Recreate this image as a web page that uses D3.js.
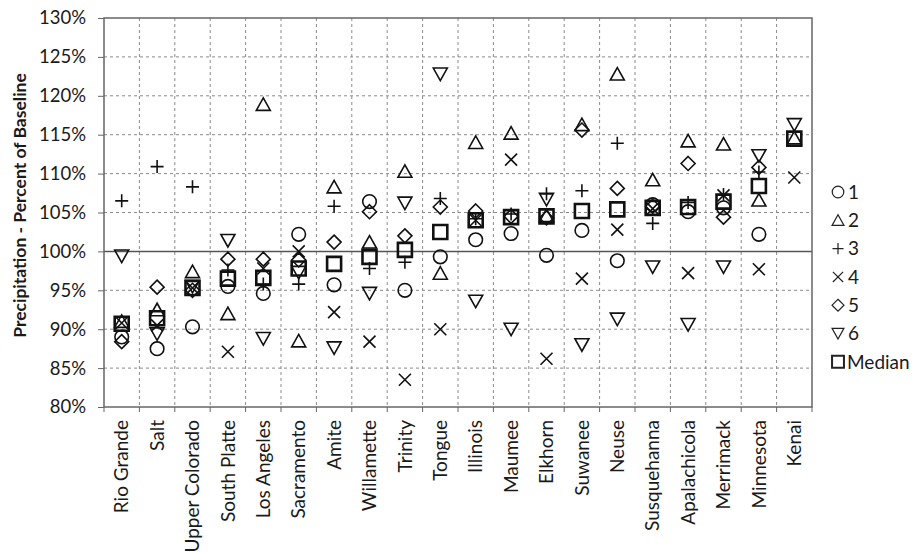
<!DOCTYPE html>
<html>
<head>
<meta charset="utf-8">
<script src="https://cdn.jsdelivr.net/npm/d3@7"></script>
<style>
  body { margin: 0; background: #fff; }
  text { font-family: Lato, "Open Sans", sans-serif; fill: #1a1a1a; }
</style>
</head>
<body>
<script>
// Rivers along the x axis.
const rivers = ["Rio Grande", "Salt", "Upper Colorado", "South Platte", "Los Angeles",
  "Sacramento", "Amite", "Willamette", "Trinity", "Tongue", "Illinois", "Maumee",
  "Elkhorn", "Suwanee", "Neuse", "Susquehanna", "Apalachicola", "Merrimack",
  "Minnesota", "Kenai"];

// Precipitation, percent of baseline, one array per scenario.
const series1 = [89.0, 87.5, 90.3, 95.5, 94.6, 102.2, 95.7, 106.4, 95.0, 99.3,
  101.5, 102.3, 99.5, 102.7, 98.8, 106.0, 105.1, 105.6, 102.2, null];
const series2 = [91.0, 92.5, 97.4, 92.0, 118.9, 88.5, 108.3, 101.2, 110.3, 97.2,
  114.0, 115.2, 104.6, 116.3, 122.8, 109.2, 114.2, 113.8, 106.6, 114.6];
const series3 = [106.5, 110.9, 108.3, 97.6, 95.8, 95.8, 105.8, 97.8, 98.6, 106.8,
  104.2, 104.8, 107.4, 107.8, 113.9, 103.6, 106.3, 107.3, 110.2, null];
const series4 = [90.8, 90.5, 95.3, 87.1, 97.8, 100.0, 92.2, 88.4, 83.5, 90.0,
  104.0, 111.8, 86.2, 96.5, 102.8, 105.5, 97.2, 107.2, 97.7, 109.5];
const series5 = [88.4, 95.4, 95.0, 99.0, 99.0, 98.9, 101.2, 105.1, 102.0, 105.7,
  105.2, 104.5, 104.3, 115.6, 108.1, 105.8, 111.3, 104.4, 110.8, null];
const series6 = [99.4, 89.4, 95.5, 101.4, 88.8, 97.3, 87.6, 94.6, 106.2, 122.8,
  93.6, 90.0, 106.7, 88.0, 91.3, 98.0, 90.6, 98.0, 112.3, 116.3];
const median = [90.7, 91.4, 95.3, 96.5, 96.6, 97.8, 98.4, 99.3, 100.2, 102.5,
  104.0, 104.4, 104.5, 105.2, 105.4, 105.6, 105.7, 106.4, 108.4, 114.5];

const seriesNames = ["1", "2", "3", "4", "5", "6", "Median"];
const seriesShapes = ["circle", "triUp", "plus", "cross", "diamond", "triDown", "square"];
const yTicks = [80, 85, 90, 95, 100, 105, 110, 115, 120, 125, 130];

const width = 914, height = 552;
const margin = { left: 104, right: 812, top: 18, bottom: 407 };

const svg = d3.select("body").append("svg")
  .attr("width", width)
  .attr("height", height);

const x = d3.scaleBand().domain(rivers).range([margin.left, margin.right]).padding(0);
const y = d3.scaleLinear().domain([80, 130]).range([margin.bottom, margin.top]);

// Marker outlines, centred on 0,0.
function shapePath(type, k) {
  const p = d3.path();
  if (type === "circle") {
    p.moveTo(6.8 * k, 0);
    p.arc(0, 0, 6.8 * k, 0, 2 * Math.PI);
  } else if (type === "triUp") {
    p.moveTo(-7 * k, 6 * k); p.lineTo(7 * k, 6 * k); p.lineTo(0, -6.5 * k); p.closePath();
  } else if (type === "triDown") {
    p.moveTo(-7 * k, -6 * k); p.lineTo(7 * k, -6 * k); p.lineTo(0, 6.5 * k); p.closePath();
  } else if (type === "plus") {
    p.moveTo(-6.5 * k, 0); p.lineTo(6.5 * k, 0);
    p.moveTo(0, -6.5 * k); p.lineTo(0, 6.5 * k);
  } else if (type === "cross") {
    p.moveTo(-6 * k, -6 * k); p.lineTo(6 * k, 6 * k);
    p.moveTo(-6 * k, 6 * k); p.lineTo(6 * k, -6 * k);
  } else if (type === "diamond") {
    p.moveTo(0, -7 * k); p.lineTo(7 * k, 0); p.lineTo(0, 7 * k); p.lineTo(-7 * k, 0); p.closePath();
  } else if (type === "square") {
    p.rect(-7 * k, -7 * k, 14 * k, 14 * k);
  }
  return p.toString();
}

// Grid lines.
const grid = svg.append("g");
grid.selectAll(".hgrid")
  .data(yTicks.filter(d => d !== 80 && d !== 130 && d !== 100))
  .enter().append("line")
  .attr("x1", margin.left).attr("x2", margin.right)
  .attr("y1", d => y(d)).attr("y2", d => y(d))
  .attr("stroke", "#8a8a8a").attr("stroke-width", 1)
  .attr("stroke-dasharray", "3,3");

grid.selectAll(".vgrid")
  .data(rivers.slice(1))
  .enter().append("line")
  .attr("x1", d => x(d)).attr("x2", d => x(d))
  .attr("y1", margin.top).attr("y2", margin.bottom)
  .attr("stroke", "#8a8a8a").attr("stroke-width", 1)
  .attr("stroke-dasharray", "3,3");

// Baseline at 100%.
svg.append("line")
  .attr("x1", margin.left).attr("x2", margin.right)
  .attr("y1", y(100)).attr("y2", y(100))
  .attr("stroke", "#555").attr("stroke-width", 1.5);

// Plot frame.
svg.append("rect")
  .attr("x", margin.left).attr("y", margin.top)
  .attr("width", margin.right - margin.left)
  .attr("height", margin.bottom - margin.top)
  .attr("fill", "none").attr("stroke", "#666").attr("stroke-width", 1.5);

// Y axis.
const yAxis = svg.append("g")
  .attr("transform", `translate(${margin.left},0)`)
  .call(d3.axisLeft(y).tickValues(yTicks).tickFormat(d => d + "%").tickSize(6).tickPadding(12));
yAxis.select(".domain").remove();
yAxis.selectAll("line").attr("stroke", "#666");
yAxis.selectAll("text").style("font-size", "18.5px").style("font-family", "Lato").attr("fill", "#1a1a1a");

// X axis: labels at band centres, ticks at band edges.
const xAxis = svg.append("g")
  .attr("transform", `translate(0,${margin.bottom})`)
  .call(d3.axisBottom(x).tickSize(0));
xAxis.select(".domain").remove();
xAxis.selectAll("text")
  .style("font-size", "19px").style("font-family", "Lato").attr("fill", "#1a1a1a")
  .attr("text-anchor", "end")
  .attr("transform", "rotate(-90)")
  .attr("x", -13).attr("y", 0).attr("dy", "0.35em");

svg.selectAll(".xtick")
  .data(rivers.concat(["end"]))
  .enter().append("line")
  .attr("x1", (d, i) => margin.left + x.step() * i)
  .attr("x2", (d, i) => margin.left + x.step() * i)
  .attr("y1", margin.bottom).attr("y2", margin.bottom + 5)
  .attr("stroke", "#666");

// Y title.
svg.append("text")
  .attr("transform", `translate(26,${(margin.top + margin.bottom) / 2 - 7}) rotate(-90)`)
  .attr("text-anchor", "middle")
  .style("font-size", "17.5px").style("font-weight", "bold")
  .text("Precipitation - Percent of Baseline");

// Markers.
const allSeries = [series1, series2, series3, series4, series5, series6, median];
allSeries.forEach((vals, si) => {
  svg.append("g").selectAll("path")
    .data(vals.map((v, i) => ({ river: rivers[i], v: v })).filter(d => d.v !== null))
    .enter().append("path")
    .attr("transform", d => `translate(${x(d.river) + x.bandwidth() / 2},${y(d.v)})`)
    .attr("d", shapePath(seriesShapes[si], 1))
    .attr("fill", "none")
    .attr("stroke", "#111")
    .attr("stroke-width", si === 6 ? 2.6 : 1.6);
});

// Legend.
const legend = svg.append("g");
seriesNames.forEach((name, i) => {
  const ly = 192 + 28.3 * i;
  legend.append("path")
    .attr("transform", `translate(838,${ly})`)
    .attr("d", shapePath(seriesShapes[i], 0.85))
    .attr("fill", "none").attr("stroke", "#222")
    .attr("stroke-width", i === 6 ? 2 : 1.2);
  legend.append("text")
    .attr("x", i === 6 ? 847 : 848).attr("y", ly).attr("dy", "0.36em")
    .style("font-size", "19px")
    .text(name);
});
</script>
</body>
</html>
